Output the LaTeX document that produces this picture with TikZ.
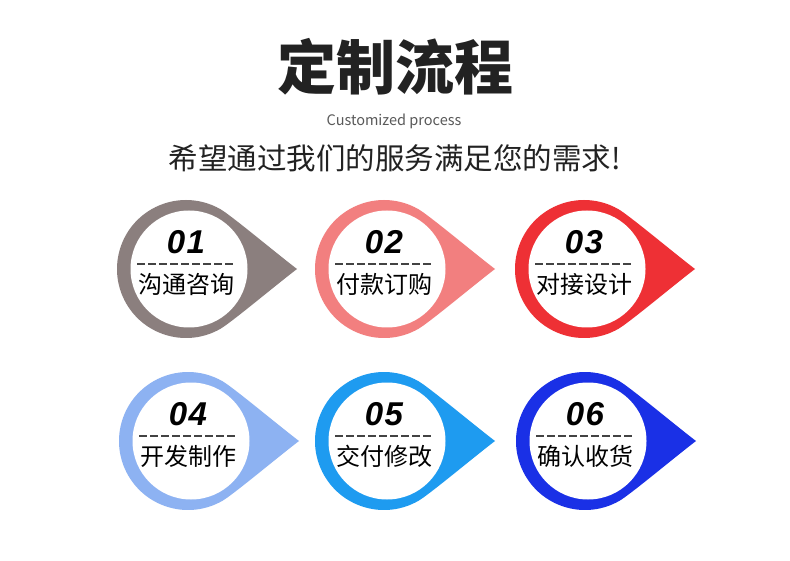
\documentclass[tikz,border=0pt]{standalone}
\usepackage{fontspec}
\newfontfamily\cjk{Noto Sans CJK SC}
\newfontfamily\numfont{Liberation Sans}
\definecolor{cA}{HTML}{8B7F7E}
\definecolor{cB}{HTML}{F27F7F}
\definecolor{cC}{HTML}{EE3035}
\definecolor{cD}{HTML}{8DB2F2}
\definecolor{cE}{HTML}{1E9BF0}
\definecolor{cF}{HTML}{1A30E6}
\definecolor{ink}{HTML}{222222}
\tikzset{
  x=1pt, y=1pt,
  numtext/.style={inner sep=0pt, text=black, font=\numfont\bfseries\itshape\fontsize{33}{34}\selectfont},
  cntext/.style={inner sep=0pt, text=black, font=\cjk\fontsize{24}{26}\selectfont},
  dashline/.style={draw=ink!85, line width=1.5pt, dash pattern=on 8pt off 3pt},
  pics/drop/.style n args={3}{code={
    \fill[#1] (60:69) .. controls (44.9,53.8) and (90,16) .. (111,0)
      .. controls (90,-16) and (44.9,-53.8) .. (-60:69)
      arc[start angle=-60, end angle=-300, radius=69] -- cycle;
    \fill[white] (3,0) circle[radius=58.5];
    \node[numtext] (-num) at (0,27) {#2};
    \coordinate (-dl) at (-49,5);
    \coordinate (-dr) at (48,5);
    \draw[dashline] (-dl) -- (-dr);
    \node[cntext] (-label) at (0,-15.5) {#3};
  }}
}
\begin{document}
\begin{tikzpicture}
\useasboundingbox (0,0) rectangle (790,-561);
\fill[white] (0,0) rectangle (790,-561);
\node[inner sep=0pt, text=ink, font=\cjk\bfseries\fontsize{59}{60}\selectfont] (title) at (395,-67) {定制流程};
\node[inner sep=0pt, text=black!65, font=\cjk\fontsize{14.5}{16}\selectfont] (sub) at (394,-121) {Customized process};
\node[inner sep=0pt, text=ink, font=\cjk\fontsize{29.5}{31}\selectfont] (slogan) at (395,-158) {希望通过我们的服务满足您的需求!};
\pic (s1) at (186,-269) {drop={cA}{0\kern1.5pt1}{沟通咨询}};
\pic (s2) at (384,-269) {drop={cB}{0\kern1.5pt2}{付款订购}};
\pic (s3) at (584,-269) {drop={cC}{0\kern1.5pt3}{对接设计}};
\pic (s4) at (188,-441) {drop={cD}{0\kern1.5pt4}{开发制作}};
\pic (s5) at (384,-441) {drop={cE}{0\kern1.5pt5}{交付修改}};
\pic (s6) at (585,-441) {drop={cF}{0\kern1.5pt6}{确认收货}};
\end{tikzpicture}
\end{document}
